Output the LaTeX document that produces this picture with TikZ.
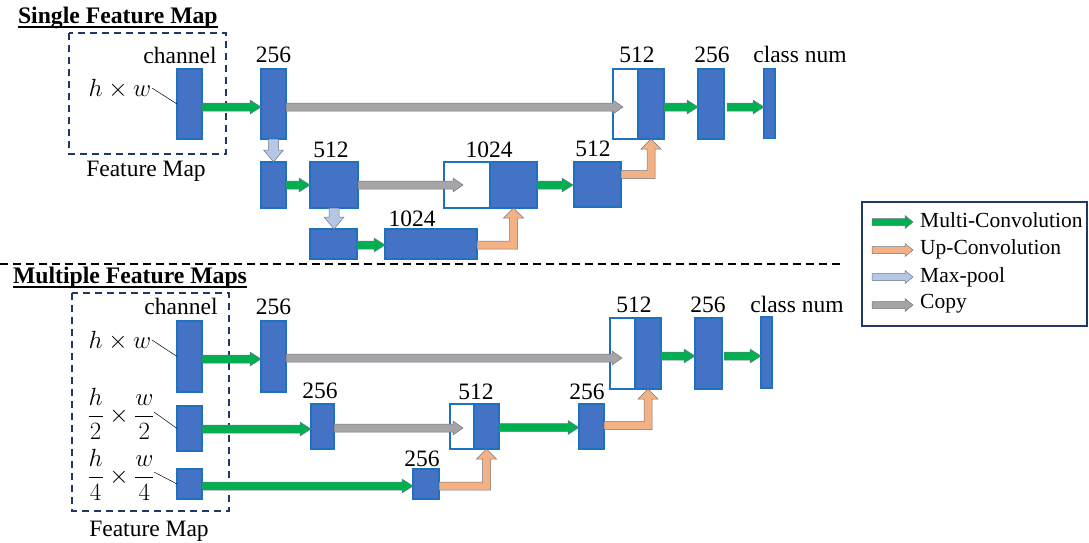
\documentclass[tikz,border=0pt]{standalone}
\usepackage{amsmath}
\usepackage{fontspec}
\setmainfont{Liberation Serif}
\usetikzlibrary{calc}

\definecolor{blkfill}{RGB}{68,114,196}
\definecolor{blkedge}{RGB}{30,112,192}
\definecolor{convgreen}{RGB}{0,176,80}
\definecolor{uporange}{RGB}{244,177,131}
\definecolor{poolblue}{RGB}{180,199,231}
\definecolor{copygray}{RGB}{165,165,165}
\definecolor{arrowline}{RGB}{110,118,132}
\definecolor{navy}{RGB}{32,56,100}

% horizontal block arrow: style, start, tip, shaft half width, head half width, head length
\newcommand\flowright[6]{%
  \path[#1] let \p1=(#2), \p2=(#3) in
    (\x1,\y1+#4pt) -- (\x2-#6pt,\y1+#4pt) -- (\x2-#6pt,\y1+#5pt) -- (\x2,\y1)
    -- (\x2-#6pt,\y1-#5pt) -- (\x2-#6pt,\y1-#4pt) -- (\x1,\y1-#4pt) -- cycle;}
% downward block arrow
\newcommand\flowdown[6]{%
  \path[#1] let \p1=(#2), \p2=(#3) in
    (\x1-#4pt,\y1) -- (\x1-#4pt,\y2+#6pt) -- (\x1-#5pt,\y2+#6pt) -- (\x1,\y2)
    -- (\x1+#5pt,\y2+#6pt) -- (\x1+#4pt,\y2+#6pt) -- (\x1+#4pt,\y1) -- cycle;}
% block arrow going right, then up into the bottom of a block
\newcommand\flowelbow[6]{%
  \path[#1] let \p1=(#2), \p2=(#3) in
    (\x1,\y1+#4pt) -- (\x2-#4pt,\y1+#4pt) -- (\x2-#4pt,\y2-#6pt) -- (\x2-#5pt,\y2-#6pt)
    -- (\x2,\y2) -- (\x2+#5pt,\y2-#6pt) -- (\x2+#4pt,\y2-#6pt) -- (\x2+#4pt,\y1-#4pt)
    -- (\x1,\y1-#4pt) -- cycle;}

\tikzset{
  every node/.style={inner sep=0pt, outer sep=0pt, font=\fontsize{23.5}{27}\selectfont},
  blk/.style={rectangle, draw=blkedge, fill=blkfill, line width=1.6pt},
  wblk/.style={rectangle, draw=blkedge, fill=white, line width=1.6pt},
  lbl/.style={anchor=base},
  mathlbl/.style={font=\fontsize{24}{28}\selectfont},
  fraclbl/.style={font=\fontsize{23.5}{28}\selectfont},
  conv/.style={fill=convgreen, draw=arrowline, line width=0.5pt},
  upconv/.style={fill=uporange, draw=arrowline, line width=0.5pt},
  pool/.style={fill=poolblue, draw=arrowline, line width=0.5pt},
  copyarr/.style={fill=copygray, draw=arrowline, line width=0.5pt},
  fmbox/.style={draw=navy, line width=1.6pt, dash pattern=on 7pt off 5pt},
  lead/.style={draw=black, line width=0.5pt},
  heading/.style={anchor=base west, font=\fontsize{23.7}{28}\selectfont\bfseries},
  rule/.style={draw=black, line width=1.4pt},
}

\begin{document}
\begin{tikzpicture}[x=1pt,y=-1pt]
\useasboundingbox (0,0) rectangle (1089,542);

%% ---------------- Single feature map ----------------
\node[heading] (title1) at (18,23) {Single Feature Map};
\draw[rule] ([yshift=-4pt]title1.base west) -- ([yshift=-4pt]title1.base east);
\draw[fmbox] (69,33) rectangle (226,154);
\node[lbl] (ch1) at (180,63) {channel};
\node[lbl] (fm1) at (146,176) {Feature Map};
\node[lbl, mathlbl] (hw1) at (120,96) {$h\times w$};

% encoder / decoder blocks
\node[blk, minimum width=25pt, minimum height=70pt] (A0) at (189.5,104) {};
\node[blk, minimum width=25pt, minimum height=70pt] (A1) at (273.5,104) {};
\node[wblk, minimum width=25pt, minimum height=70pt] (A2w) at (625.5,104) {};
\node[blk, minimum width=26pt, minimum height=70pt] (A2) at (651,104) {};
\node[blk, minimum width=26pt, minimum height=70pt] (A3) at (711,104) {};
\node[blk, minimum width=11pt, minimum height=70pt] (A4) at (769.5,103.5) {};

\node[blk, minimum width=25pt, minimum height=46pt] (B0) at (273.5,185) {};
\node[blk, minimum width=48pt, minimum height=46pt] (B1) at (334,185) {};
\node[wblk, minimum width=46pt, minimum height=46pt] (B2w) at (467,185) {};
\node[blk, minimum width=47pt, minimum height=46pt] (B2) at (513.5,185) {};
\node[blk, minimum width=47pt, minimum height=45pt] (B3) at (597.5,184.5) {};

\node[blk, minimum width=47pt, minimum height=30pt] (C0) at (333.5,244) {};
\node[blk, minimum width=92pt, minimum height=30pt] (C1) at (431,244) {};

% channel counts
\node[lbl] at (273.5,62) {256};
\node[lbl] at (637,62) {512};
\node[lbl] at (712,62) {256};
\node[lbl] at (800,62) {class num};
\node[lbl] at (331,157) {512};
\node[lbl] at (489,157) {1024};
\node[lbl] at (593,156) {512};
\node[lbl] at (412,226) {1024};

\coordinate (ld1) at (152,88);
\draw[lead] (ld1) -- (A0.west);

% operations
\flowright{conv}{[yshift=-3pt]A0.east}{A1.west}{4}{7}{11}
\flowright{copyarr}{[yshift=-3pt]A1.east}{$(A2w.west)+(10,0)$}{4}{7}{10}
\flowright{conv}{[yshift=-3pt]A2.east}{A3.west}{4}{7}{11}
\flowright{conv}{[yshift=-3pt]$(A3.east)+(3,0)$}{A4.west}{4}{7}{11}
\flowdown{pool}{A1.south}{B0.north}{5}{10}{12}
\flowright{conv}{B0.east}{B1.west}{4}{7}{11}
\flowright{copyarr}{B1.east}{$(B2w.west)+(19,0)$}{4}{7}{10}
\flowright{conv}{B2.east}{$(B3.west)+(-1,0)$}{4}{7}{11}
\flowelbow{upconv}{[yshift=10pt]B3.east}{A2.south}{4}{10}{10}
\flowdown{pool}{B1.south}{C0.north}{5}{10}{12}
\flowright{conv}{[yshift=-1pt]C0.east}{C1.west}{4}{7}{11}
\flowelbow{upconv}{[yshift=-1pt]C1.east}{B2.south}{4}{10}{10}

%% separator
\coordinate (sepL) at (0,264);
\coordinate (sepR) at (840,264);
\draw[line width=1.6pt, dash pattern=on 8pt off 5pt] (sepL) -- (sepR);

%% ---------------- Multiple feature maps ----------------
\node[heading] (title2) at (13,283) {Multiple Feature Maps};
\draw[rule] ([yshift=-4pt]title2.base west) -- ([yshift=-4pt]title2.base east);
\draw[fmbox] (72,293) rectangle (229,511);
\node[lbl] (ch2) at (181,314) {channel};
\node[lbl] (fm2) at (149,536) {Feature Map};
\node[lbl, mathlbl] (hw2) at (120,348) {$h\times w$};
\node[fraclbl] (hw3) at (121,414) {$\dfrac{h}{2}\times\dfrac{w}{2}$};
\node[fraclbl] (hw4) at (121,475) {$\dfrac{h}{4}\times\dfrac{w}{4}$};

\node[blk, minimum width=25pt, minimum height=71pt] (D0) at (189.5,356.5) {};
\node[blk, minimum width=25pt, minimum height=71pt] (D1) at (273.5,356.5) {};
\node[wblk, minimum width=25pt, minimum height=71pt] (D2w) at (622.5,353.5) {};
\node[blk, minimum width=26pt, minimum height=71pt] (D2) at (648,353.5) {};
\node[blk, minimum width=27pt, minimum height=71pt] (D3) at (708.5,353.5) {};
\node[blk, minimum width=11pt, minimum height=71pt] (D4) at (766.5,352.5) {};

\node[blk, minimum width=25pt, minimum height=45pt] (E0) at (189.5,428.5) {};
\node[blk, minimum width=23pt, minimum height=45pt] (E1) at (322.5,426.5) {};
\node[wblk, minimum width=24pt, minimum height=45pt] (E2w) at (462,426.5) {};
\node[blk, minimum width=25pt, minimum height=45pt] (E2) at (486.5,426.5) {};
\node[blk, minimum width=25pt, minimum height=45pt] (E3) at (591.5,426.5) {};

\node[blk, minimum width=25pt, minimum height=30pt] (F0) at (189.5,484) {};
\node[blk, minimum width=26pt, minimum height=30pt] (F1) at (426,484) {};

\node[lbl] at (273.5,314) {256};
\node[lbl] at (634,312) {512};
\node[lbl] at (708,312) {256};
\node[lbl] at (797,312) {class num};
\node[lbl] at (320,398) {256};
\node[lbl] at (476,399) {512};
\node[lbl] at (587,399) {256};
\node[lbl] at (422,466) {256};

\coordinate (ld2) at (152,340);
\coordinate (ld3) at (154,412);
\coordinate (ld4) at (154,472);
\draw[lead] (ld2) -- (D0.west);
\draw[lead] (ld3) -- (E0.west);
\draw[lead] (ld4) -- (F0.west);

\flowright{conv}{[yshift=-2.5pt]D0.east}{D1.west}{4}{7}{11}
\flowright{copyarr}{[yshift=-1.5pt]D1.east}{$(D2w.west)+(12,0)$}{4}{7}{10}
\flowright{conv}{[yshift=-2.5pt]D2.east}{D3.west}{4}{7}{11}
\flowright{conv}{[yshift=-2.5pt]$(D3.east)+(2,0)$}{D4.west}{4}{7}{11}
\flowright{conv}{[yshift=-0.5pt]E0.east}{E1.west}{4}{7}{11}
\flowright{copyarr}{[yshift=-1.5pt]E1.east}{$(E2w.west)+(13,0)$}{4}{7}{10}
\flowright{conv}{[yshift=-1pt]E2.east}{E3.west}{4}{7}{11}
\flowelbow{upconv}{[yshift=1pt]E3.east}{D2.south}{4}{10}{10}
\flowright{conv}{[yshift=-2pt]F0.east}{F1.west}{4}{7}{11}
\flowelbow{upconv}{[yshift=-2pt]F1.east}{E2.south}{4}{10}{10}

%% ---------------- Legend ----------------
\node[draw=navy, line width=1.2pt, minimum width=225pt, minimum height=124pt] (legend) at (974.5,264) {};
\begin{scope}[every node/.style={anchor=west, inner sep=0pt, font=\fontsize{21.5}{25}\selectfont}]
\coordinate (g1a) at (872,222); \coordinate (g1b) at (913,222);
\coordinate (g2a) at (872,250); \coordinate (g2b) at (913,250);
\coordinate (g3a) at (872,277); \coordinate (g3b) at (913,277);
\coordinate (g4a) at (872,305); \coordinate (g4b) at (913,305);
\flowright{conv}{g1a}{g1b}{3.5}{6.5}{8}
\flowright{upconv}{g2a}{g2b}{3.5}{6.5}{8}
\flowright{pool}{g3a}{g3b}{3.5}{6.5}{8}
\flowright{copyarr}{g4a}{g4b}{3.5}{6.5}{8}
\node (t1) at (920,220) {Multi-Convolution};
\node (t2) at (920,249) {Up-Convolution};
\node (t3) at (920,277) {Max-pool};
\node (t4) at (920,304) {Copy};
\end{scope}
\end{tikzpicture}
\end{document}
